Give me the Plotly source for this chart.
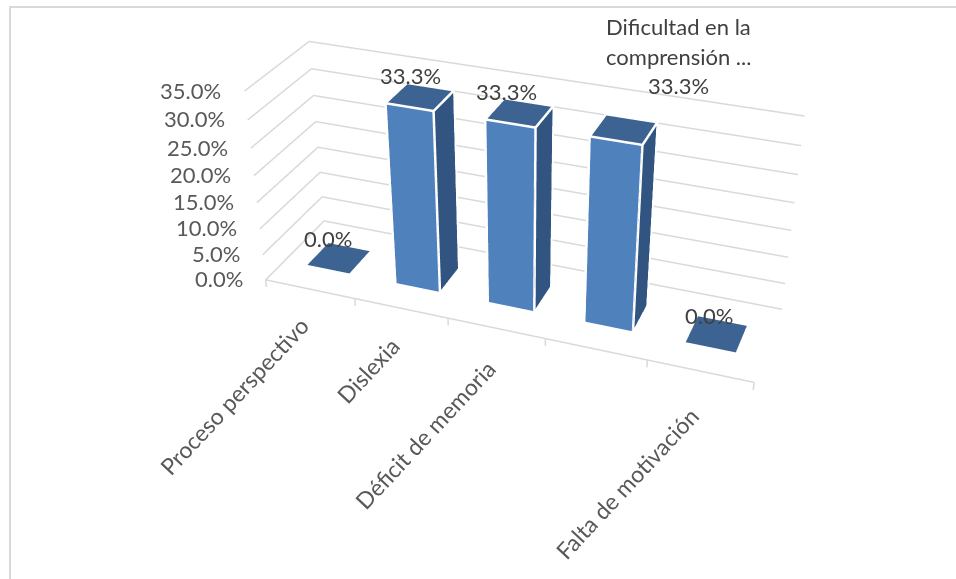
import plotly.graph_objects as go

categories = ["Proceso perspectivo", "Dislexia", "Déficit de memoria", "Dificultad en la comprensión ...", "Falta de motivación"]
axis_label_shown = [True, True, True, False, True]
values = [0.0, 33.3, 33.3, 33.3, 0.0]
ticks = [0, 5, 10, 15, 20, 25, 30, 35]
tick_labels = ["0.0%", "5.0%", "10.0%", "15.0%", "20.0%", "25.0%", "30.0%", "35.0%"]
data_labels = [["0.0%"], ["33.3%"], ["33.3%"], ["Dificultad en la", "comprensión ...", "33.3%"], ["0.0%"]]
label_shift = [(-11, 4), (-9, 6), (-13, 6), (55, 29), (-8, 3)]
axis_label_yshift = [-20, -20, -24, -24, -28]

# figure geometry: window is 956x579; the scene's lens is fixed, so the page is larger and shifted
FW, FH, TOP_SHIFT = 1040, 1153, -319
EYE = dict(x=2.0323, y=-5.4567, z=3.2494)
CENTER = dict(x=-0.3565, y=0.9652, z=-0.8994)
AX, AY, AZ = 2.5, 0.6411, 1.0994
HW, D0, D1 = 0.2401, 0.3159, 0.6836
XR, YR, ZR = (-0.6, 4.6), (-0.05, 1.05), (-2.5, 35.5)

FRONT = "#4f81bd"
SIDE = "#315480"
TOP = "#3c6391"
GRID = "#d9d9d9"
TXT_AX = "#595959"
TXT_DL = "#404040"
FONT = "Lato"


def bar(i, v, color, faces):
    x0, x1 = i - HW, i + HW
    vx = [x0, x1, x1, x0, x0, x1, x1, x0]
    vy = [D0, D0, D1, D1, D0, D0, D1, D1]
    vz = [0, 0, 0, 0, v, v, v, v]
    I, J, K = zip(*faces)
    return go.Mesh3d(x=vx, y=vy, z=vz, i=I, j=J, k=K, color=color, flatshading=True,
                     lighting=dict(ambient=1, diffuse=0, specular=0), hoverinfo="skip")


def line(xs, ys, zs, color, width):
    return go.Scatter3d(x=xs, y=ys, z=zs, mode="lines", line=dict(color=color, width=width), hoverinfo="skip")


fig = go.Figure()
for t in ticks:
    fig.add_trace(line([-0.5, -0.5, 4.5], [0, 1, 1], [t, t, t], GRID, 3))
fig.add_trace(line([-0.5, 4.5], [0, 0], [0, 0], GRID, 3))
for k in range(len(categories) + 1):
    fig.add_trace(line([k - 0.5, k - 0.5], [0, 0], [0, -1.4], GRID, 3))

for idx, val in enumerate(values):
    fig.add_trace(bar(idx, val, FRONT, [(0, 1, 5), (0, 5, 4)]))
    fig.add_trace(bar(idx, val, SIDE, [(1, 2, 6), (1, 6, 5)]))
    fig.add_trace(bar(idx, val, TOP, [(4, 5, 6), (4, 6, 7)]))
    if val > 0:
        e = 0.004
        a, b = idx - HW - e, idx + HW + e
        f, g = D0 - e, D1 + e
        h = val + 0.1
        fig.add_trace(line([a, a, b, b, b, b, a, a],
                           [f, f, f, f, g, g, g, f],
                           [0, h, h, 0, 0, h, h, h], "white", 5))
        fig.add_trace(line([b, b], [f, g], [h, h], "white", 5))

ann = []
for t, lab in zip(ticks, tick_labels):
    ann.append(dict(x=-0.5, y=0, z=t, text=lab, showarrow=False, xanchor="right", yanchor="middle",
                    xshift=-21, yshift=1, font=dict(family=FONT, size=22, color=TXT_AX)))
for i, (c, s) in enumerate(zip(categories, axis_label_shown)):
    if s:
        ann.append(dict(x=i, y=0, z=0, text=c, showarrow=False, textangle=-47, xanchor="right", yanchor="top",
                        xshift=7, yshift=axis_label_yshift[i], font=dict(family=FONT, size=23, color=TXT_AX)))
for i, (lines, sh) in enumerate(zip(data_labels, label_shift)):
    for j, txt in enumerate(reversed(lines)):
        ann.append(dict(x=i, y=(D0 + D1) / 2, z=values[i], text=txt, showarrow=False, xanchor="center", yanchor="bottom",
                        xshift=sh[0], yshift=sh[1] + j * 29.5, font=dict(family=FONT, size=22, color=TXT_DL)))

fx = lambda px: px / FW
fy = lambda py: 1 - (py - TOP_SHIFT) / FH
fig.update_layout(
    width=FW, height=FH, showlegend=False, paper_bgcolor="white",
    margin=dict(l=0, r=0, t=0, b=0),
    shapes=[
        dict(type="line", xref="paper", yref="paper", x0=fx(9), x1=fx(FW), y0=fy(7), y1=fy(7), line=dict(color=GRID, width=2)),
        dict(type="line", xref="paper", yref="paper", x0=fx(10), x1=fx(10), y0=fy(6), y1=fy(579), line=dict(color=GRID, width=2)),
    ],
    scene=dict(
        xaxis=dict(visible=False, range=list(XR)),
        yaxis=dict(visible=False, range=list(YR)),
        zaxis=dict(visible=False, range=list(ZR)),
        aspectmode="manual",
        aspectratio=dict(x=AX * (XR[1] - XR[0]) / 5, y=AY * (YR[1] - YR[0]), z=AZ * (ZR[1] - ZR[0]) / 37),
        camera=dict(eye=EYE, center=CENTER, up=dict(x=0, y=0, z=1), projection=dict(type="perspective")),
        annotations=ann,
    ),
)
post = ("var d=document.getElementById('{plot_id}');"
        "document.documentElement.style.overflow='hidden';document.body.style.overflow='hidden';"
        "document.body.style.margin='0';d.style.position='absolute';d.style.left='0px';"
        "d.style.top='%dpx';" % TOP_SHIFT)
fig.write_html("out.html", post_script=post, config=dict(displayModeBar=False))
